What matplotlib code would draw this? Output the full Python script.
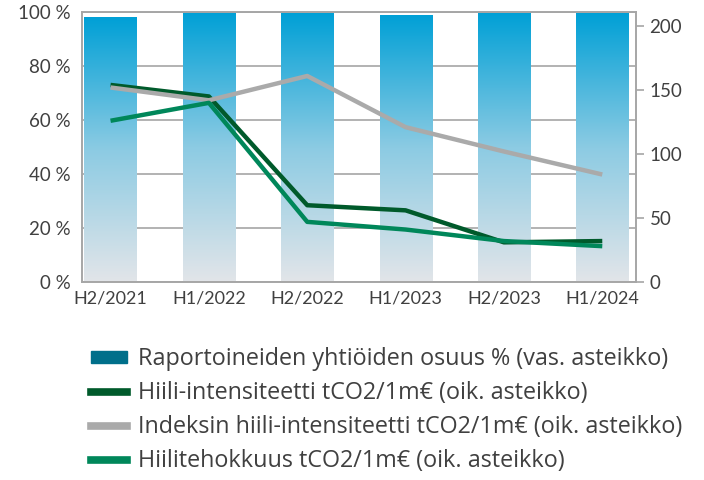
import numpy as np
import matplotlib.pyplot as plt
from matplotlib.patches import Patch
from matplotlib.lines import Line2D
from matplotlib.colors import LinearSegmentedColormap

plt.rcParams['font.family'] = ['Lato', 'DejaVu Sans']

periods = ['H2/2021', 'H1/2022', 'H2/2022', 'H1/2023', 'H2/2023', 'H1/2024']
reported_share = [98, 100, 99.5, 99, 99.7, 99.6]
carbon_intensity = [154, 145, 60, 56, 31, 32]
index_intensity = [152, 142, 161, 121, 102, 84]
carbon_efficiency = [126, 140, 47, 41, 32, 28]

labels = ['Raportoineiden yhtiöiden osuus % (vas. asteikko)',
          'Hiili-intensiteetti tCO2/1m€ (oik. asteikko)',
          'Indeksin hiili-intensiteetti tCO2/1m€ (oik. asteikko)',
          'Hiilitehokkuus tCO2/1m€ (oik. asteikko)']

grid_col = '#a6a6a6'
text_col = '#404040'

fig = plt.figure(figsize=(7.04, 4.8), dpi=100)
ax = fig.add_axes([0.1165, 0.4125, 0.7865, 0.5625])
x = np.arange(len(periods))

cmap = LinearSegmentedColormap.from_list('bar', ['#e2e5e9', '#8ccbe3', '#00a0d6'])
grad = np.linspace(0, 1, 256).reshape(-1, 1)
bars = ax.bar(x, reported_share, width=0.53, color='none', edgecolor='none', zorder=2)
for b in bars:
    x0, w, h = b.get_x(), b.get_width(), b.get_height()
    im = ax.imshow(grad, extent=[x0, x0 + w, 0, h], origin='lower', aspect='auto',
                   cmap=cmap, zorder=2)
    im.set_clip_path(b)

ax.set_xlim(-0.29, 5.34)
ax.set_ylim(0, 100)
ax.set_yticks(range(0, 101, 20))
ax.set_yticklabels([f'{v} %' for v in range(0, 101, 20)])
ax.set_xticks(x)
ax.set_xticklabels(periods)
ax.grid(axis='y', color=grid_col, lw=1.2, zorder=1)
ax.set_axisbelow(True)
for s in ax.spines.values():
    s.set_color(grid_col)
    s.set_linewidth(1.2)
ax.tick_params(axis='y', length=0, labelsize=13.5, colors=text_col, pad=8)
ax.tick_params(axis='x', length=0, labelsize=13, colors=text_col, pad=6)

ax2 = ax.twinx()
ax2.set_ylim(0, 211)
ax2.set_yticks(range(0, 201, 50))
ax2.plot(x, carbon_intensity, color='#005a2b', lw=3.2, solid_capstyle='butt')
ax2.plot(x, index_intensity, color='#aaaaaa', lw=3.2, solid_capstyle='butt')
ax2.plot(x, carbon_efficiency, color='#00875a', lw=3.2, solid_capstyle='butt')
for s in ax2.spines.values():
    s.set_color(grid_col)
    s.set_linewidth(1.2)
ax2.tick_params(axis='y', length=6, width=1.2, color=grid_col, labelsize=13.5,
                labelcolor=text_col, pad=4)

handles = [Patch(color='#006f8a'),
           Line2D([], [], color='#005a2b', lw=5.5),
           Line2D([], [], color='#aaaaaa', lw=5.5),
           Line2D([], [], color='#00875a', lw=5.5)]
fig.legend(handles, labels, loc='upper left', bbox_to_anchor=(0.116, 0.296),
           frameon=False, handlelength=1.55, handleheight=0.4, handletextpad=0.45,
           labelspacing=0.42, borderaxespad=0,
           prop={'family': ['Open Sans', 'DejaVu Sans'], 'size': 16.8},
           labelcolor=text_col)

fig.savefig('out.png', dpi=100)
